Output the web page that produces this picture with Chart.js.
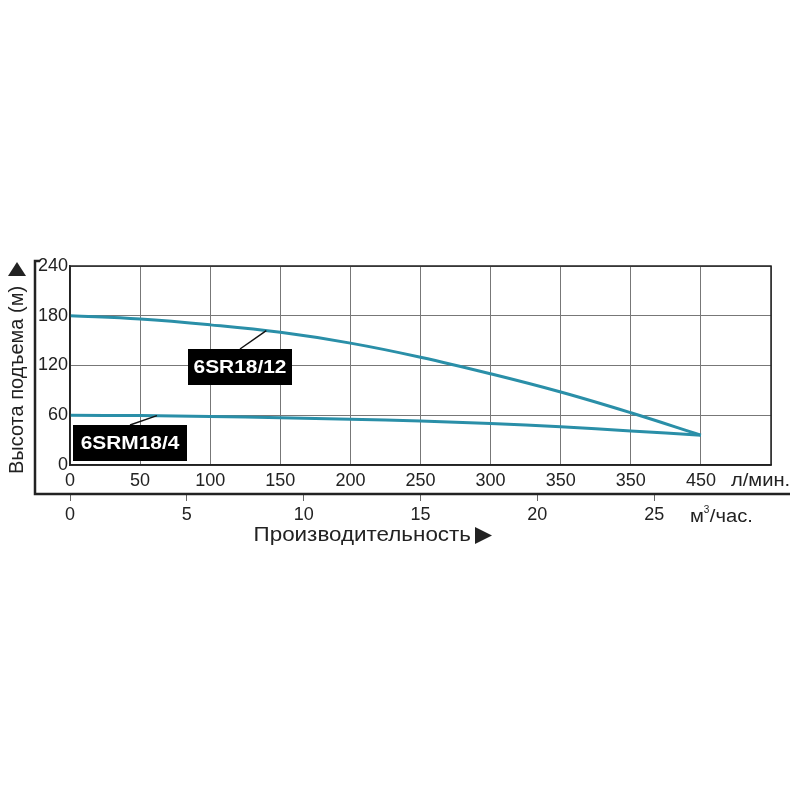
<!DOCTYPE html>
<html>
<head>
<meta charset="utf-8">
<script src="https://cdn.jsdelivr.net/npm/chart.js@4"></script>
<style>
  html, body { margin: 0; padding: 0; background: #fff; }
  #wrap { width: 800px; height: 800px; }
</style>
</head>
<body>
<div id="wrap"><canvas id="pumpChart" width="800" height="800"></canvas></div>
<script>
// flow in l/min, head in m
var flowLpm = [0, 50, 100, 150, 200, 250, 300, 350, 400, 450];
var head18_12 = [180, 176, 169, 160, 147, 130, 110, 88, 63, 36];
var head18_4 = [60, 59.6, 58.6, 57, 55.2, 53, 50, 46, 41, 36];
// tick labels as printed on the original (note the repeated 350)
var lpmLabels = ['0', '50', '100', '150', '200', '250', '300', '350', '350', '450'];
var m3hTicks = [0, 5, 10, 15, 20, 25];
var yTicks = [0, 60, 120, 180, 240];

var lineColor = '#2a8fa8';
var tickFont = { family: 'Liberation Sans, Arial, sans-serif', size: 18 };

function toPoints(ys) {
    var pts = [];
    for (var i in flowLpm) {
        pts.push({ x: flowLpm[i], y: ys[i] });
    }
    return pts;
}

// text squeezed/stretched sideways like the scanned original
function wideText(ctx, text, x, y, align, sx) {
    ctx.save();
    ctx.translate(x, y);
    ctx.scale(sx, 1);
    ctx.textAlign = align;
    ctx.fillText(text, 0, 0);
    ctx.restore();
    return ctx.measureText(text).width * sx;
}

var extras = {
    id: 'extras',
    afterDraw: function (chart) {
        var ctx = chart.ctx;
        var a = chart.chartArea;
        var xs = chart.scales.x;
        var ys = chart.scales.y;
        ctx.save();

        // plot frame
        ctx.strokeStyle = '#222';
        ctx.lineWidth = 1.5;
        ctx.strokeRect(a.left, a.top, a.right - a.left, a.bottom - a.top);

        // outer frame
        ctx.lineWidth = 2.5;
        ctx.beginPath();
        ctx.moveTo(40, 261);
        ctx.lineTo(35, 261);
        ctx.lineTo(35, 494);
        ctx.lineTo(790, 494);
        ctx.stroke();

        // curve labels
        function tag(text, x0, y0, w, h, lx0, ly0, lx1, ly1) {
            ctx.strokeStyle = '#111';
            ctx.lineWidth = 1.5;
            ctx.beginPath();
            ctx.moveTo(lx0, ly0);
            ctx.lineTo(lx1, ly1);
            ctx.stroke();
            ctx.fillStyle = '#000';
            ctx.fillRect(x0, y0, w, h);
            ctx.fillStyle = '#fff';
            ctx.font = 'bold 19px Liberation Sans, Arial, sans-serif';
            ctx.textBaseline = 'middle';
            wideText(ctx, text, x0 + w / 2, y0 + h / 2 + 1, 'center', 1.1);
        }
        var p1x = xs.getPixelForValue(140), p1y = ys.getPixelForValue(162);
        tag('6SR18/12', 188, 349, 104, 36, 240, 349, p1x, p1y);
        var p2x = xs.getPixelForValue(62), p2y = ys.getPixelForValue(59.5);
        tag('6SRM18/4', 73, 425, 114, 36, 130, 425, p2x, p2y);

        ctx.fillStyle = '#222';
        ctx.textBaseline = 'middle';

        // units
        ctx.font = '18px Liberation Sans, Arial, sans-serif';
        wideText(ctx, 'л/мин.', 731, 481, 'left', 1.12);
        var mw = wideText(ctx, 'м', 690, 517, 'left', 1.12);
        ctx.font = '10px Liberation Sans, Arial, sans-serif';
        wideText(ctx, '3', 690 + mw, 510, 'left', 1.0);
        ctx.font = '18px Liberation Sans, Arial, sans-serif';
        wideText(ctx, '/час.', 690 + mw + 6, 517, 'left', 1.12);

        // x title
        ctx.font = '20px Liberation Sans, Arial, sans-serif';
        wideText(ctx, 'Производительность', 471, 535, 'right', 1.12);
        ctx.beginPath();
        ctx.moveTo(475, 527);
        ctx.lineTo(492, 535.5);
        ctx.lineTo(475, 544);
        ctx.closePath();
        ctx.fill();

        // y title
        ctx.save();
        ctx.translate(17, 380);
        ctx.rotate(-Math.PI / 2);
        ctx.textAlign = 'center';
        ctx.fillText('Высота подъема (м)', 0, 0);
        ctx.restore();
        ctx.beginPath();
        ctx.moveTo(8, 276);
        ctx.lineTo(17, 262);
        ctx.lineTo(26, 276);
        ctx.closePath();
        ctx.fill();

        ctx.restore();
    }
};

var ctx = document.getElementById('pumpChart');
var pumpChart = new Chart(ctx, {
    type: 'line',
    data: {
        datasets: [
            {
                label: '6SR18/12',
                data: toPoints(head18_12),
                borderColor: lineColor,
                borderWidth: 3,
                pointRadius: 0,
                tension: 0.4,
                fill: false
            },
            {
                label: '6SRM18/4',
                data: toPoints(head18_4),
                borderColor: lineColor,
                borderWidth: 3,
                pointRadius: 0,
                tension: 0.4,
                fill: false
            }
        ]
    },
    options: {
        responsive: true,
        maintainAspectRatio: false,
        animation: false,
        layout: { padding: { left: 0, right: 29, top: 266, bottom: 266 } },
        plugins: {
            legend: { display: false },
            tooltip: { enabled: false }
        },
        scales: {
            x: {
                type: 'linear',
                position: 'bottom',
                weight: 1,
                min: 0,
                max: 500,
                afterFit: function (s) { s.height = 29; },
                afterBuildTicks: function (s) {
                    s.ticks = [];
                    for (var v = 0; v <= 500; v += 50) s.ticks.push({ value: v });
                },
                ticks: {
                    color: '#222',
                    font: tickFont,
                    padding: 5,
                    maxRotation: 0,
                    autoSkip: false,
                    callback: function (v) {
                        var i = Math.round(v / 50);
                        return lpmLabels[i] !== undefined ? lpmLabels[i] : '';
                    }
                },
                grid: { color: '#777', lineWidth: 1, drawTicks: false },
                border: { color: '#222', width: 1.5 }
            },
            x2: {
                type: 'linear',
                position: 'bottom',
                weight: 2,
                min: 0,
                max: 30,
                afterFit: function (s) { s.height = 40; },
                afterBuildTicks: function (s) {
                    s.ticks = m3hTicks.map(function (v) { return { value: v }; });
                },
                ticks: {
                    color: '#222',
                    font: tickFont,
                    padding: 3,
                    maxRotation: 0,
                    autoSkip: false
                },
                grid: { drawOnChartArea: false, drawTicks: true, tickLength: 7, color: '#666', lineWidth: 1 },
                border: { display: false }
            },
            y: {
                min: 0,
                max: 240,
                afterFit: function (s) { s.width = 70; },
                afterBuildTicks: function (s) {
                    s.ticks = yTicks.map(function (v) { return { value: v }; });
                },
                ticks: {
                    color: '#222',
                    font: tickFont,
                    padding: 2
                },
                grid: { color: '#777', lineWidth: 1, drawTicks: false },
                border: { color: '#222', width: 1.5 }
            }
        }
    },
    plugins: [extras]
});
</script>
</body>
</html>
